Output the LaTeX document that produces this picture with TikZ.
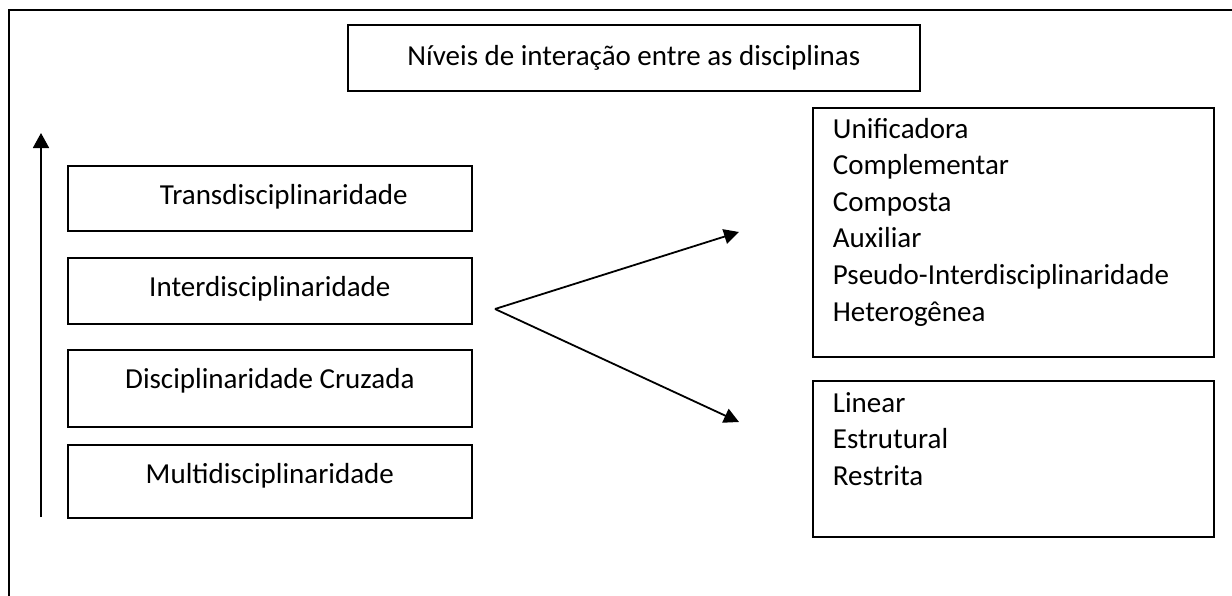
\documentclass[tikz,border=0pt]{standalone}
\usepackage{fontspec}
\setmainfont{Carlito}
\usetikzlibrary{arrows.meta}
\begin{document}
\begin{tikzpicture}[x=1pt,y=-1pt,line width=1.8pt,
  frame/.style={draw,line width=1.8pt},
  boxnode/.style={draw,line width=1.7pt,anchor=north west,inner sep=0pt},
  txt/.style={inner sep=0pt,font=\fontsize{29}{36}\selectfont},
  tip/.style={-{Triangle[length=15pt,width=15pt]}}]
\useasboundingbox (0,0) rectangle (1232,595);
% outer frame (extends past the right and bottom edges)
\draw[frame] (9,650) -- (9,10) -- (1300,10);
% title
\node[boxnode,minimum width=572pt,minimum height=66pt] (title) at (347,24) {};
\node[txt,anchor=base] (titletxt) at ([yshift=-41pt]title.north) {Níveis de interação entre as disciplinas};
% left boxes
\node[boxnode,minimum width=404pt,minimum height=65pt] (trans) at (67,165) {};
\node[boxnode,minimum width=404pt,minimum height=66pt] (inter) at (67,257) {};
\node[boxnode,minimum width=404pt,minimum height=77pt] (cruz) at (67,349) {};
\node[boxnode,minimum width=404pt,minimum height=73pt] (multi) at (67,444) {};
\node[txt,anchor=base] (transtxt) at ([xshift=14pt,yshift=-39pt]trans.north) {Transdisciplinaridade};
\node[txt,anchor=base] (intertxt) at ([yshift=-39pt]inter.north) {Interdisciplinaridade};
\node[txt,anchor=base] (cruztxt) at ([yshift=-39pt]cruz.north) {Disciplinaridade Cruzada};
\node[txt,anchor=base] (multitxt) at ([yshift=-39pt]multi.north) {Multidisciplinaridade};
% vertical arrow
\coordinate (vlow) at (41,517);
\coordinate (vtop) at (41,133);
\draw[-{Triangle[length=15pt,width=16pt]}] (vlow) -- (vtop);
% right boxes
\node[boxnode,minimum width=401pt,minimum height=249pt] (ubox) at (812,107) {};
\node[boxnode,minimum width=401pt,minimum height=156pt] (lbox) at (812,380) {};
\foreach \t [count=\i] in {Unificadora,Complementar,Composta,Auxiliar,Pseudo-Interdisciplinaridade,Heterogênea}
  \node[txt,anchor=base west] (u\i) at ([xshift=20pt,yshift={-31pt-36.6pt*(\i-1)}]ubox.north west) {\t};
\foreach \t [count=\i] in {Linear,Estrutural,Restrita}
  \node[txt,anchor=base west] (l\i) at ([xshift=20pt,yshift={-32pt-36.6pt*(\i-1)}]lbox.north west) {\t};
% branching arrows
\coordinate (vertex) at (495,309);
\coordinate (uend) at (739,232);
\coordinate (lend) at (739,422);
\draw[tip] (vertex) -- (uend);
\draw[tip] (vertex) -- (lend);
\end{tikzpicture}
\end{document}
